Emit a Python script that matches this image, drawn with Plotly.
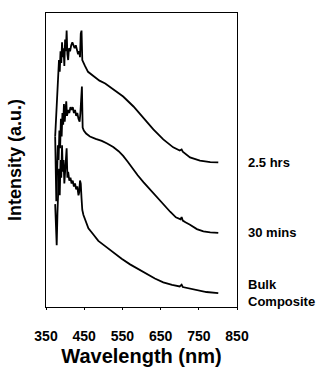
import plotly.graph_objects as go

# ---- data ----
wl_hrs = [374, 376, 378, 380, 382, 384, 386, 388, 390, 392, 394, 396, 398, 400, 402, 404, 406, 408, 410,
          413, 416, 419, 422, 425, 428, 431, 434, 437, 439, 441, 443, 445, 448, 452, 460, 470, 480, 490,
          505, 526, 552, 579, 605, 631, 657, 683, 700, 705, 708, 712, 727, 753, 780, 801]
int_hrs = [58, 64, 70, 75, 79, 84, 80, 87, 83, 90, 85, 88, 82, 91, 87, 94, 86, 84, 88,
           87, 89, 90, 89, 88, 89, 87, 86, 87, 85, 93, 94, 84, 83, 82, 80, 79, 78, 77,
           76, 74, 71.6, 68.2, 64.3, 60.4, 57, 54.3, 53.2, 53.6, 52.8, 52.4, 50.9, 49.8, 49.3, 49.2]

wl_mins = [374, 376, 377, 379, 381, 383, 385, 387, 389, 391, 393, 395, 397, 399, 401, 403, 405, 408, 411,
           414, 417, 420, 423, 426, 429, 432, 435, 438, 440, 442, 444, 446, 449, 455, 465, 480, 496, 510,
           526, 540, 552, 564, 576, 590, 605, 622, 640, 657, 675, 690, 702, 705, 708, 715, 727, 745, 762, 780, 801]
int_mins = [58, 48, 36, 45, 55, 50, 60, 54, 64, 58, 66, 62, 69, 63, 67, 70, 65, 67, 66,
            68, 67, 68, 66, 67, 65, 66, 64, 63, 66, 74, 75, 61, 60, 59, 58, 57.2, 56.5, 55.6,
            54.4, 53, 51.4, 49.4, 47.2, 44.8, 42.5, 40, 37.5, 35, 32.4, 30.5, 29.8, 30.6, 29.4, 28.8, 28, 26.5, 25.7, 25.4, 25.2]

wl_bulk = [374, 376, 378, 380, 382, 384, 386, 388, 390, 392, 394, 396, 398, 400, 402, 404, 406, 408, 411,
           414, 417, 420, 423, 426, 429, 432, 435, 437, 439, 441, 443, 445, 448, 455, 461, 475, 487, 504,
           526, 548, 570, 592, 614, 635, 657, 680, 700, 705, 708, 715, 728, 744, 770, 801]
int_bulk = [35, 28, 21, 32, 40, 47, 38, 50, 44, 55, 46, 50, 42, 45, 48, 54, 44, 46, 43,
            44, 42, 43, 41, 42, 40, 41, 38, 39, 43, 42, 37, 33, 31.3, 28.5, 26.8, 24.5, 22.5, 20.8,
            18.5, 16.4, 14.5, 12.8, 11.2, 9.7, 8.4, 7.5, 7.0, 7.6, 6.8, 6.6, 6.1, 5.6, 5.1, 4.7]

series_names = ["2.5 hrs", "30 mins", "Bulk<br>Composite"]
x_ticks = [350, 450, 550, 650, 750, 850]
x_title = "Wavelength (nm)"
y_title = "Intensity (a.u.)"

FONT = "Arial, 'Liberation Sans', Helvetica, sans-serif"

fig = go.Figure()
all_series = [(wl_hrs, int_hrs), (wl_mins, int_mins), (wl_bulk, int_bulk)]
for (xs, ys), name in zip(all_series, series_names):
    fig.add_trace(go.Scatter(x=xs, y=ys, mode="lines", name=name,
                             line=dict(color="black", width=1.8), showlegend=False))
    fig.add_annotation(x=1.045, xref="paper", y=ys[-1], yref="y", text=name,
                       showarrow=False, xanchor="left", yanchor="middle", align="left",
                       font=dict(family=FONT, size=13, color="black", weight="bold"))

fig.update_layout(
    width=325, height=376,
    margin=dict(l=46, r=88, t=12, b=66),
    paper_bgcolor="white", plot_bgcolor="white",
    font=dict(family=FONT, color="black"),
    xaxis=dict(range=[350, 850], tickvals=x_ticks, ticktext=[str(v) for v in x_ticks],
               showline=True, linecolor="black", linewidth=1, mirror=True,
               showgrid=False, zeroline=False, ticks="outside", ticklen=2, tickcolor="black",
               ticklabelstandoff=14,
               tickfont=dict(family=FONT, size=14, color="black", weight="bold"),
               title=dict(text=x_title, standoff=6,
                          font=dict(family=FONT, size=20, color="black", weight="bold"))),
    yaxis=dict(range=[0, 100], showticklabels=False, ticks="",
               showline=True, linecolor="black", linewidth=1, mirror=True,
               showgrid=False, zeroline=False,
               title=dict(text=y_title, standoff=18,
                          font=dict(family=FONT, size=18, color="black", weight="bold"))),
)

fig.write_html("out.html")
